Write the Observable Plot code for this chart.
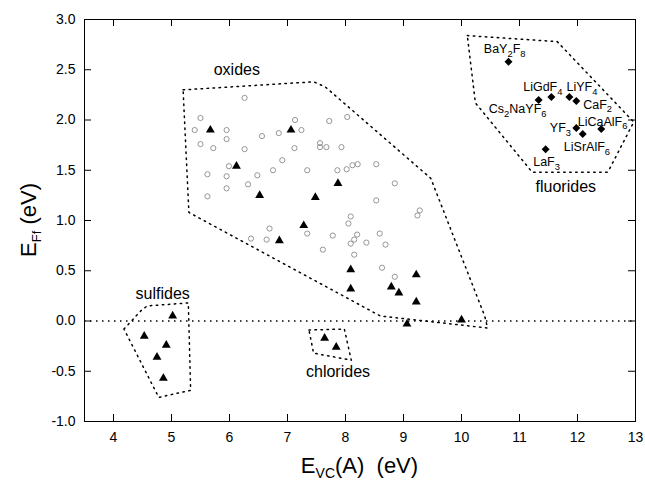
<!DOCTYPE html>
<html><head><meta charset="utf-8">
<script src="https://cdn.jsdelivr.net/npm/d3@7"></script>
<script src="https://cdn.jsdelivr.net/npm/@observablehq/plot@0.6"></script>
<style>
body{margin:0;background:#fff;}
svg{font-family:"Liberation Sans",Arial,Helvetica,sans-serif;}
</style>
</head><body><div id="chart"></div>
<script>
// ---- axes ----
const xTicks = [4,5,6,7,8,9,10,11,12,13];
const yTicks = [-1,-0.5,0,0.5,1,1.5,2,2.5,3];

// ---- oxides: open circles ----
const oxideCircleX = [6.26,5.50,5.40,5.95,5.95,6.56,6.85,7.13,7.24,7.72,8.03,5.50,5.72,6.26,7.12,7.56,7.56,7.67,7.93,6.91,5.99,6.75,7.34,7.86,8.02,5.62,5.95,6.48,6.32,5.95,5.62,8.09,8.05,8.12,8.21,8.53,8.85,8.53,9.28,9.24,6.69,7.34,6.37,6.64,7.78,7.61,8.09,8.20,8.15,8.59,8.36,8.69,8.15,8.63,8.85];
const oxideCircleY = [2.22,2.02,1.90,1.90,1.81,1.84,1.87,2.00,1.90,1.99,2.03,1.76,1.72,1.71,1.72,1.77,1.73,1.73,1.73,1.60,1.54,1.50,1.50,1.50,1.51,1.46,1.44,1.45,1.36,1.32,1.24,1.04,0.97,1.55,1.56,1.56,1.37,1.20,1.10,1.05,0.92,0.87,0.82,0.81,0.85,0.71,0.77,0.86,0.81,0.87,0.78,0.76,0.66,0.53,0.44];

// ---- filled triangles ----
const oxideTriX = [5.67,7.06,6.12,6.52,7.87,7.48,7.28,6.86,8.09,8.09,8.79,8.92,9.22,9.22,9.06,10.0];
const oxideTriY = [1.90,1.90,1.54,1.25,1.37,1.23,0.95,0.80,0.51,0.32,0.34,0.28,0.46,0.19,-0.03,0.01];
const sulfideTriX = [5.02,4.53,4.91,4.75,4.86];
const sulfideTriY = [0.05,-0.15,-0.24,-0.36,-0.57];
const chlorideTriX = [7.64,7.84];
const chlorideTriY = [-0.17,-0.26];

// ---- fluorides: filled diamonds ----
const fluorideX = [10.81,11.33,11.55,11.86,11.98,11.98,12.09,12.41,11.45];
const fluorideY = [2.58,2.20,2.23,2.23,2.19,1.92,1.86,1.91,1.71];

// ---- compound labels ----
const chemNames = ["BaY2F8","LiGdF4","LiYF4","Cs2NaYF6","CaF2","LiCaAlF6","YF3","LiSrAlF6","LaF3"];
const chemX = [10.385,11.064,11.810,10.471,12.098,12.005,11.523,11.764,11.236];
const chemY = [2.665,2.287,2.284,2.068,2.112,1.942,1.876,1.690,1.540];

// ---- group labels ----
const groupNames = ["oxides","fluorides","sulfides","chlorides"];
const groupX = [6.126,11.798,4.848,7.871];
const groupY = [2.443,1.282,0.221,-0.559];

// ---- dotted group outlines ----
const oxidePolyX = [5.20,7.45,7.65,9.47,10.40,10.45,8.60,5.30,5.20];
const oxidePolyY = [2.30,2.38,2.33,1.42,0.05,-0.07,0.05,1.08,2.30];
const sulfidePolyX = [4.18,4.47,4.58,5.29,5.33,4.78,4.18];
const sulfidePolyY = [-0.08,0.10,0.15,0.18,-0.69,-0.76,-0.08];
const chloridePolyX = [7.37,7.98,8.10,7.45,7.37];
const chloridePolyY = [-0.09,-0.08,-0.39,-0.32,-0.09];
const fluoridePolyX = [10.10,11.65,12.97,12.54,12.51,11.22,10.24,10.10];
const fluoridePolyY = [2.84,2.78,1.98,1.50,1.48,1.48,2.17,2.84];

// ---- build tables ----
const zip = (xs, ys, extra) => xs.map((x, i) => Object.assign({x, y: ys[i]}, extra ? extra(i) : {}));
const circles = zip(oxideCircleX, oxideCircleY);
const triangles = [...zip(oxideTriX, oxideTriY), ...zip(sulfideTriX, sulfideTriY), ...zip(chlorideTriX, chlorideTriY)];
const diamonds = zip(fluorideX, fluorideY);
const chemLabels = zip(chemX, chemY, i => ({name: chemNames[i]}));
const groupLabels = zip(groupX, groupY, i => ({name: groupNames[i]}));
const polys = [
  ...zip(oxidePolyX, oxidePolyY, () => ({g: "oxides"})),
  ...zip(sulfidePolyX, sulfidePolyY, () => ({g: "sulfides"})),
  ...zip(chloridePolyX, chloridePolyY, () => ({g: "chlorides"})),
  ...zip(fluoridePolyX, fluoridePolyY, () => ({g: "fluorides"}))
];

const W = 645, H = 481, ML = 84, MR = 10, MT = 19, MB = 60;
const innerW = W - ML - MR, innerH = H - MT - MB;
const dots = "1.5,4.5";

const plot = Plot.plot({
  width: W, height: H,
  marginLeft: ML, marginRight: MR, marginTop: MT, marginBottom: MB,
  x: {domain: [3.5, 13]},
  y: {domain: [-1, 3]},
  style: {fontFamily: '"Liberation Sans",Arial,sans-serif', fontSize: "14px", color: "#000", background: "#fff"},
  marks: [
    Plot.axisX({ticks: xTicks, tickSize: 0, tickPadding: 11, label: null, fontSize: 14, tickFormat: d => String(d)}),
    Plot.axisY({ticks: yTicks, tickSize: 0, tickPadding: 9, label: null, fontSize: 14, tickFormat: d => d.toFixed(1)}),
    Plot.tickX(xTicks, {x: d => d, insetTop: innerH - 7, stroke: "#000"}),
    Plot.tickX(xTicks, {x: d => d, insetBottom: innerH - 7, stroke: "#000"}),
    Plot.tickY(yTicks, {y: d => d, insetRight: innerW - 7, stroke: "#000"}),
    Plot.tickY(yTicks, {y: d => d, insetLeft: innerW - 7, stroke: "#000"}),
    Plot.ruleY([0], {stroke: "#000", strokeWidth: 1.5, strokeDasharray: dots}),
    Plot.line(polys, {x: "x", y: "y", z: "g", stroke: "#000", strokeWidth: 1.5, strokeDasharray: dots}),
    Plot.dot(circles, {x: "x", y: "y", r: 2.6, stroke: "#8a8a8a", strokeWidth: 0.9, fill: "none"}),
    Plot.dot(triangles, {x: "x", y: "y", symbol: "triangle", r: 3.3, fill: "#000", stroke: "none"}),
    Plot.dot(diamonds, {x: "x", y: "y", symbol: "diamond2", r: 3.6, fill: "#000", stroke: "none"}),
    Plot.text(chemLabels, {x: "x", y: "y", text: "name", textAnchor: "start", lineAnchor: "bottom", fontSize: 12.5, fill: "#000"}),
    Plot.text(groupLabels, {x: "x", y: "y", text: "name", textAnchor: "middle", lineAnchor: "bottom", fontSize: 16, fill: "#000"}),
    Plot.frame({stroke: "#000", strokeWidth: 1})
  ]
});

document.getElementById("chart").appendChild(plot);
const svg = d3.select(plot);

// chemical formulas: digits as subscripts
svg.selectAll("text").filter(function() { return chemNames.includes(this.textContent); }).each(function() {
  const s = this.textContent;
  const el = d3.select(this);
  el.text(null);
  const parts = s.match(/\d+|\D+/g);
  let low = false;
  for (const p of parts) {
    const isSub = /\d/.test(p);
    const t = el.append("tspan").text(p);
    if (isSub) { t.attr("font-size", "0.75em"); if (!low) { t.attr("dy", 3.5); low = true; } }
    else if (low) { t.attr("dy", -3.5); low = false; }
  }
});

// axis titles with subscripts
const xt = svg.append("text")
  .attr("x", ML + innerW / 2).attr("y", 473)
  .attr("text-anchor", "middle").attr("font-size", 22).style("fill", "black")
  .style("white-space", "pre");
xt.append("tspan").text("E");
xt.append("tspan").attr("font-size", 14).attr("dy", 5).text("VC");
xt.append("tspan").attr("dy", -5).text("(A)  (eV)");

const yt = svg.append("text")
  .attr("transform", `translate(36,${MT + innerH / 2}) rotate(-90)`)
  .attr("text-anchor", "middle").attr("font-size", 22).style("fill", "black")
  .style("white-space", "pre");
yt.append("tspan").text("E");
yt.append("tspan").attr("font-size", 13).attr("dy", 5).text("Ff");
yt.append("tspan").attr("dy", -5).text(" (eV)");
</script>
</body></html>
